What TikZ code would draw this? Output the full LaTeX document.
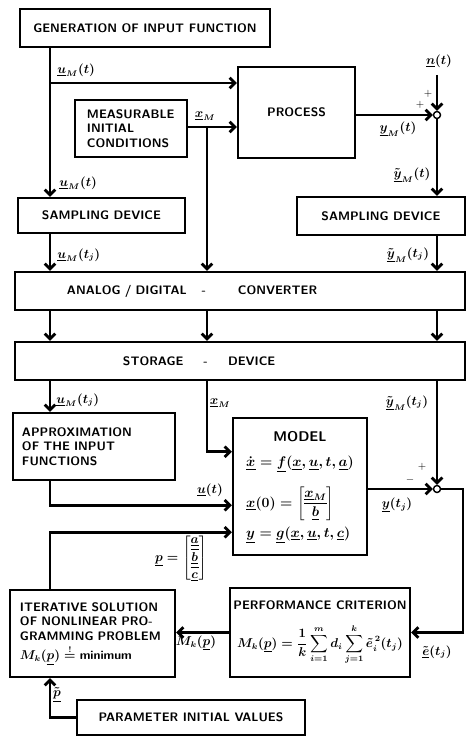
\documentclass[tikz,border=0pt]{standalone}
\usepackage{amsmath}
\usepackage{amssymb}
\usepackage{tikz}
\usetikzlibrary{positioning, calc, arrows.meta}

\newcommand{\uv}[1]{\underline{#1}}

\begin{document}
\begin{tikzpicture}[x=0.03cm, y=-0.03cm,
  font=\fontsize{10.5}{12.5}\selectfont\sffamily\bfseries\boldmath,
  blk/.style={draw, line width=1.9pt, inner sep=0pt, align=center},
  flow/.style={line width=2.4pt, -{Straight Barb[length=4.5pt, width=9pt]}},
  lbl/.style={inner sep=1pt},
  sgn/.style={inner sep=0pt, font=\small\bfseries},
  junc/.style={circle, draw, fill=white, line width=1.2pt, inner sep=0pt, minimum size=6pt}]

\useasboundingbox (0,0) rectangle (470,737);

%% ── blocks (centres in pixel units, sizes in cm) ─────────────────
\node[blk, minimum width=7.5cm, minimum height=1.14cm] (gen) at (145,28)
  {GENERATION OF INPUT FUNCTION};
\node[blk, minimum width=3.51cm, minimum height=2.73cm] (proc) at (296.5,112.5) {PROCESS};
\node[blk, minimum width=3.36cm, minimum height=1.71cm, text width=2.64cm, align=left]
  (meas) at (131,128.5) {MEASURABLE\\INITIAL\\CONDITIONS};
\node[blk, minimum width=5.01cm, minimum height=1.05cm] (sampL) at (101.5,215.5) {SAMPLING DEVICE};
\node[blk, minimum width=5.04cm, minimum height=1.14cm] (sampR) at (381,216) {SAMPLING DEVICE};
\node[blk, minimum width=13.5cm, minimum height=1.14cm, inner xsep=1.56cm,
      text width=10.38cm, align=left] (ad) at (240,291)
  {ANALOG / DIGITAL\hspace{0.45cm}-\hspace{0.95cm}CONVERTER};
\node[blk, minimum width=13.5cm, minimum height=1.14cm, inner xsep=3.24cm,
      text width=7.02cm, align=left] (stor) at (240,361)
  {STORAGE\hspace{0.6cm}-\hspace{0.6cm}DEVICE};
\node[blk, minimum width=4.86cm, minimum height=2.01cm, text width=4.32cm, align=left]
  (approx) at (94,446.5) {APPROXIMATION\\OF THE INPUT\\FUNCTIONS\\[6pt]};
\node[blk, minimum width=4.02cm, minimum height=4.11cm] (model) at (300,486.5)
  {\fontsize{12}{14}\selectfont
   \begin{tabular}{@{}l@{}}
   \multicolumn{1}{@{}c@{}}{MODEL}\\[8pt]
   $\dot{\uv{x}} = \uv{f}(\uv{x},\uv{u},t,\uv{a})$\\[12pt]
   $\uv{x}(0) = \left[\begin{array}{@{}c@{}}\uv{x}_M\\[1pt]\hline\rule{0pt}{11pt}\uv{b}\end{array}\right]$\\[12pt]
   $\uv{y} = \uv{g}(\uv{x},\uv{u},t,\uv{c})$
   \end{tabular}};
\node[blk, minimum width=4.95cm, minimum height=2.61cm, text width=4.35cm, align=left]
  (iter) at (92.5,633.5)
  {ITERATIVE SOLUTION\\OF NONLINEAR PRO-\\GRAMMING PROBLEM\\[3pt]
   $M_k(\uv{p}) \stackrel{!}{=}$ minimum};
\node[blk, minimum width=5.4cm, minimum height=2.67cm] (perf) at (320,632.5)
  {PERFORMANCE CRITERION\\[12pt]
   $M_k(\uv{p}) = \dfrac{1}{k}\displaystyle\sum_{i=1}^{m} d_i \sum_{j=1}^{k} \tilde{e}_i^{\,2}(t_j)$};
\node[blk, minimum width=6.84cm, minimum height=1.05cm] (param) at (191,717.5)
  {PARAMETER INITIAL VALUES};

%% ── summing points and branch points ─────────────────────────────
\node[junc] (sum1) at (437,115) {};
\node[junc] (sum2) at (437,489) {};
\coordinate (uBr) at (50,83);     % u_M(t) branch to the process
\coordinate (xBr) at (207,127);   % x_M branch down to the converter
\coordinate (nIn) at (437,75);    % disturbance entry
\coordinate (loopR) at (463,489); % error feedback corner

%% ── signal paths ─────────────────────────────────────────────────
\draw[flow] (gen.south -| uBr) -- (sampL.north -| uBr);
\draw[flow] (uBr) -- (uBr -| proc.west);
\draw[flow] (meas.east |- xBr) -- (xBr -| proc.west);
\draw[flow] (xBr) -- (xBr |- ad.north);
\draw[flow] (sum1 -| proc.east) -- (sum1.west);
\draw[flow] (nIn) -- (sum1.north);
\draw[flow] (sum1.south) -- (sum1 |- sampR.north);
\draw[flow] (sampL.south -| uBr) -- (ad.north -| uBr);
\draw[flow] (sampR.south -| sum1) -- (ad.north -| sum1);
\foreach \lane in {uBr, xBr, sum1}{
  \draw[flow] (ad.south -| \lane) -- (stor.north -| \lane);
}
\draw[flow] (stor.south -| uBr) -- (approx.north -| uBr);
\draw[flow] (stor.south -| xBr) |- ([yshift=1.04cm]model.west);
\draw[flow] (stor.south -| sum2) -- (sum2.north);
\draw[flow] (approx.south -| uBr) |- ([yshift=-0.56cm]model.west);
\draw[flow] (sum2 -| model.east) -- (sum2.west);
\draw[flow] (sum2.east) -- (loopR) |- (perf.east);
\draw[flow] (perf.west) -- (perf.west -| iter.east);
\draw[flow] (iter.north -| uBr) |- ([yshift=-1.37cm]model.west);
\draw[flow] (param.west) -| (iter.south -| uBr);

%% ── signal labels ────────────────────────────────────────────────
\node[lbl, anchor=west] (uM1) at (56,70) {$\uv{u}_M(t)$};
\node[lbl, anchor=west] (uM2) at (58,183) {$\uv{u}_M(t)$};
\node[lbl] (xM1) at (205,116) {$\uv{x}_M$};
\node[lbl] (nLbl) at (439,61) {$\uv{n}(t)$};
\node[sgn] (pl1) at (428,94) {$+$};
\node[sgn] (pl2) at (420,105) {$+$};
\node[lbl] (yM) at (398,129) {$\uv{y}_M(t)$};
\node[lbl] (yMt) at (412,175) {$\tilde{\uv{y}}_M(t)$};
\node[lbl, anchor=west] (uMj1) at (56,255) {$\uv{u}_M(t_j)$};
\node[lbl] (yMj1) at (408,255) {$\tilde{\uv{y}}_M(t_j)$};
\node[lbl, anchor=west] (uMj2) at (55,400) {$\uv{u}_M(t_j)$};
\node[lbl] (xM2) at (220,403) {$\uv{x}_M$};
\node[lbl] (yMj2) at (407,403) {$\tilde{\uv{y}}_M(t_j)$};
\node[lbl] (uLbl) at (210,490) {$\uv{u}(t)$};
\node[sgn] (pl3) at (422,467) {$+$};
\node[sgn] (mi1) at (410,480) {$-$};
\node[lbl] (yLbl) at (397,505) {$\uv{y}(t_j)$};
\node[lbl] (pLbl) at (181,558)
  {$\uv{p} = \left[\begin{array}{@{}c@{}}\uv{a}\\[1pt]\hline\rule{0pt}{10pt}\uv{b}\\[1pt]\hline\rule{0pt}{9pt}\uv{c}\end{array}\right]$};
\node[lbl] (MkLbl) at (196,643) {$M_k(\uv{p})$};
\node[lbl] (eLbl) at (437,652) {$\tilde{\uv{e}}(t_j)$};
\node[lbl] (p0Lbl) at (57,695) {$\tilde{\uv{p}}$};

\end{tikzpicture}
\end{document}
